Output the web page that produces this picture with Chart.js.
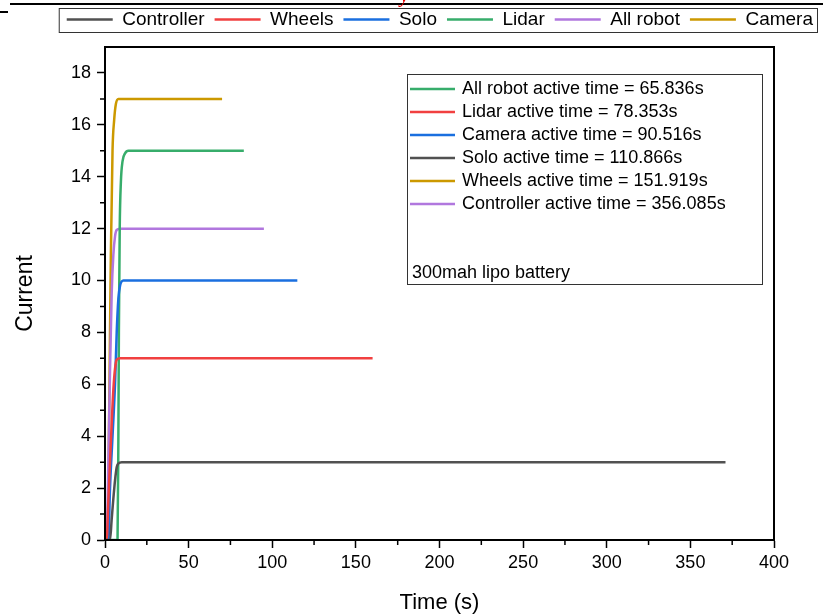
<!DOCTYPE html>
<html>
<head>
<meta charset="utf-8">
<script src="https://cdn.jsdelivr.net/npm/chart.js@4.4.1/dist/chart.umd.min.js"></script>
<style>
  body { margin: 0; background: #fff; }
  #wrap { position: relative; width: 823px; height: 616px; overflow: hidden; }
  #topline { position: absolute; left: 10px; right: 0; top: 3px; height: 2px; background: #000; }
  #dash { position: absolute; left: 0; top: 11px; width: 8px; height: 2px; background: #000; }
  #cap { position: absolute; left: 400px; top: -16px; color: #e00000; font: italic 20px "Liberation Serif", serif; }
</style>
</head>
<body>
<div id="wrap">
  <canvas id="myChart" width="823" height="616"></canvas>
  <div id="topline"></div>
  <div id="dash"></div>
  <div id="cap">y</div>
</div>
<script>
  const font = '"Liberation Sans", Arial, sans-serif';

  // series: time (s) and current
  const controllerTime = [0, 3, 4, 5, 6, 7, 8, 10, 371];
  const controllerCurrent = [0, 0, 0.8, 1.6, 2.3, 2.8, 2.95, 3, 3];
  const wheelsTime = [0, 1, 2, 3, 4, 5, 6, 7, 9, 160];
  const wheelsCurrent = [0, 0, 1.5, 3, 4.5, 5.8, 6.6, 6.95, 7, 7];
  const soloTime = [0, 2, 3, 4.5, 6, 7, 8, 9, 11, 115];
  const soloCurrent = [0, 0, 2, 4, 6, 8, 9.3, 9.8, 10, 10];
  const lidarTime = [0, 7.5, 8, 8.3, 8.8, 9.5, 10.5, 12, 14, 83];
  const lidarCurrent = [0, 0, 4, 8, 12, 13.8, 14.6, 14.9, 15, 15];
  const allRobotTime = [0, 1, 2, 3, 4, 5, 6, 7, 9, 95];
  const allRobotCurrent = [0, 0, 3, 6.5, 9.5, 11, 11.7, 11.95, 12, 12];
  const cameraTime = [0, 1.5, 2.5, 3.5, 4.5, 5.5, 6.5, 8, 10, 70];
  const cameraCurrent = [0, 0, 5, 11, 15, 16.2, 16.8, 17, 17, 17];

  const seriesNames = ['Controller', 'Wheels', 'Solo', 'Lidar', 'All robot', 'Camera'];
  const seriesColors = ['#515151', '#F14040', '#1A6FDF', '#37AD6B', '#B177DE', '#CC9900'];

  // text box inside the plot
  const boxLabels = [
    'All robot active time = 65.836s',
    'Lidar active time = 78.353s',
    'Camera active time = 90.516s',
    'Solo active time = 110.866s',
    'Wheels active time = 151.919s',
    'Controller active time = 356.085s'
  ];
  const boxColors = ['#37AD6B', '#F14040', '#1A6FDF', '#515151', '#CC9900', '#B177DE'];
  const boxNote = '300mah lipo battery';

  const xTicks = [0, 50, 100, 150, 200, 250, 300, 350, 400];
  const yTicks = [0, 2, 4, 6, 8, 10, 12, 14, 16, 18];

  const times = [controllerTime, wheelsTime, soloTime, lidarTime, allRobotTime, cameraTime];
  const currents = [controllerCurrent, wheelsCurrent, soloCurrent, lidarCurrent, allRobotCurrent, cameraCurrent];

  const datasets = seriesNames.map((name, i) => ({
    label: name,
    data: times[i].map((t, j) => ({ x: t, y: currents[i][j] })),
    borderColor: seriesColors[i],
    backgroundColor: seriesColors[i],
    pointBorderColor: seriesColors[i],
    pointBackgroundColor: seriesColors[i],
    pointBorderWidth: 2.5,
    borderWidth: 2.5,
    pointRadius: 0,
    cubicInterpolationMode: 'monotone',
    fill: false
  }));

  const framePlugin = {
    id: 'frame',
    afterDraw(chart) {
      const ctx = chart.ctx;
      const a = chart.chartArea;
      const xs = chart.scales.x, ys = chart.scales.y;
      ctx.save();
      ctx.strokeStyle = '#000';
      ctx.lineWidth = 2;
      ctx.strokeRect(a.left, a.top, a.right - a.left, a.bottom - a.top);

      // minor ticks
      ctx.lineWidth = 1.5;
      ctx.beginPath();
      for (let v = 25; v < 400; v += 50) {
        const px = xs.getPixelForValue(v);
        ctx.moveTo(px, a.bottom); ctx.lineTo(px, a.bottom + 5);
      }
      for (let v = 1; v < 19; v += 2) {
        const py = ys.getPixelForValue(v);
        ctx.moveTo(a.left, py); ctx.lineTo(a.left - 5, py);
      }
      ctx.stroke();

      // top legend border
      const hb = chart.legend.legendHitBoxes;
      if (hb && hb.length) {
        const l = hb[0].left - 8;
        const last = hb[hb.length - 1];
        const r = last.left + last.width + 4;
        const t = hb[0].top - 2;
        const h = hb[0].height + 5;
        ctx.lineWidth = 1;
        ctx.strokeStyle = '#333';
        ctx.strokeRect(l + 0.5, t + 0.5, r - l, h);
      }

      // inner text box
      const bx = a.left + 302, by = a.top + 27, bw = 355, bh = 210;
      ctx.fillStyle = '#fff';
      ctx.fillRect(bx, by, bw, bh);
      ctx.lineWidth = 1;
      ctx.strokeStyle = '#333';
      ctx.strokeRect(bx + 0.5, by + 0.5, bw, bh);
      ctx.font = '18px ' + font;
      ctx.textBaseline = 'middle';
      boxLabels.forEach((txt, i) => {
        const y = by + 15 + i * 23;
        ctx.strokeStyle = boxColors[i];
        ctx.lineWidth = 2.5;
        ctx.beginPath();
        ctx.moveTo(bx + 3, y); ctx.lineTo(bx + 48, y);
        ctx.stroke();
        ctx.fillStyle = '#000';
        ctx.fillText(txt, bx + 55, y);
      });
      ctx.fillText(boxNote, bx + 5, by + 199);
      ctx.restore();
    }
  };

  new Chart(document.getElementById('myChart'), {
    type: 'line',
    data: { datasets: datasets },
    options: {
      responsive: false,
      animation: false,
      layout: { padding: { top: 0, left: 0, right: 0, bottom: 0 } },
      plugins: {
        tooltip: { enabled: false },
        legend: {
          position: 'top',
          align: 'end',
          labels: {
            usePointStyle: true,
            pointStyle: 'line',
            pointStyleWidth: 46,
            color: '#000',
            padding: 10,
            font: { family: font, size: 19 }
          }
        }
      },
      scales: {
        x: {
          type: 'linear',
          min: 0,
          max: 400,
          afterBuildTicks: s => { s.ticks = xTicks.map(v => ({ value: v })); },
          afterFit: s => { s.height = 76; },
          ticks: { color: '#000', font: { family: font, size: 18 }, padding: 4, maxRotation: 0 },
          grid: { drawOnChartArea: false, color: '#000', tickLength: 8, tickWidth: 1.5 },
          border: { color: '#000', width: 2 },
          title: { display: true, text: 'Time (s)', color: '#000', font: { family: font, size: 22 }, padding: { top: 0, bottom: 0 } }
        },
        x2: {
          type: 'linear',
          position: 'top',
          min: 0,
          max: 400,
          afterFit: s => { s.height = 8; },
          ticks: { display: false },
          grid: { display: false },
          border: { display: false }
        },
        y: {
          min: 0,
          max: 19,
          afterBuildTicks: s => { s.ticks = yTicks.map(v => ({ value: v })); },
          afterFit: s => { s.width = 105; },
          ticks: { color: '#000', font: { family: font, size: 18 }, padding: 6 },
          grid: { drawOnChartArea: false, color: '#000', tickLength: 8, tickWidth: 1.5 },
          border: { color: '#000', width: 2 },
          title: { display: true, text: 'Current', color: '#000', font: { family: font, size: 23 }, padding: { top: 12, bottom: 0 } }
        },
        y2: {
          position: 'right',
          min: 0,
          max: 19,
          afterFit: s => { s.width = 49; },
          ticks: { display: false },
          grid: { display: false },
          border: { display: false }
        }
      }
    },
    plugins: [framePlugin]
  });
</script>
</body>
</html>
